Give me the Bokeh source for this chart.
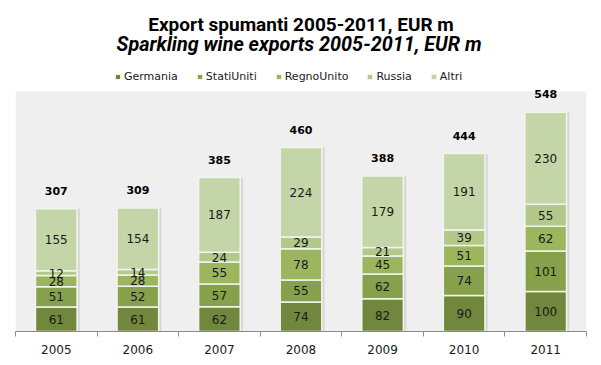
from bokeh.plotting import figure
from bokeh.models import (ColumnDataSource, Range1d, FixedTicker, Label, Legend, LegendItem, BoxAnnotation)
from bokeh.transform import dodge
from bokeh.core.properties import value
from bokeh.embed import file_html
from bokeh.resources import INLINE
import numpy as np

title_main = "Export spumanti 2005-2011, EUR m"
title_sub = "Sparkling wine exports 2005-2011, EUR  m"
years = ["2005", "2006", "2007", "2008", "2009", "2010", "2011"]
series = ["Germania", "StatiUniti", "RegnoUnito", "Russia", "Altri"]
germania = [61, 61, 62, 74, 82, 90, 100]
stati_uniti = [51, 52, 57, 55, 62, 74, 101]
regno_unito = [28, 28, 55, 78, 45, 51, 62]
russia = [12, 14, 24, 29, 21, 39, 55]
altri = [155, 154, 187, 224, 179, 191, 230]
totals = [307, 309, 385, 460, 388, 444, 548]

colors = ["#71873d", "#86a04c", "#9bb65c", "#b2c98a", "#c4d6a7"]

Y_MAX = 600
FRAME_H = 331
xs = [i + 0.5 for i in range(len(years))]
data = dict(x=xs, Germania=germania, StatiUniti=stati_uniti, RegnoUnito=regno_unito,
            Russia=russia, Altri=altri, total=totals, total_label=[str(t) for t in totals])
source = ColumnDataSource(data)

p = figure(width=601, height=365, output_backend="svg", toolbar_location=None,
           x_range=Range1d(0, len(years)), y_range=Range1d(0, Y_MAX * FRAME_H / 240),
           min_border_left=15, min_border_right=15, min_border_top=0, min_border_bottom=34)
p.title.visible = False
p.background_fill_color = "white"
p.border_fill_color = "white"
p.outline_line_color = None
p.grid.visible = False
p.yaxis.visible = False

p.add_layout(BoxAnnotation(bottom=0, top=Y_MAX, fill_color="#efefef", fill_alpha=1,
                           line_color=None, level="underlay"))

# shadow
p.vbar(x=dodge("x", 0.035), top="total", width=0.51, source=source,
       fill_color="#cfcfcf", fill_alpha=0.7, line_color=None)

renderers = p.vbar_stack(series, x="x", width=0.51, color=colors, source=source,
                         line_color="#f2f4ee", line_width=1.5)

# segment labels
vals = np.array([germania, stati_uniti, regno_unito, russia, altri], dtype=float)
cum = np.cumsum(vals, axis=0)
mids = cum - vals / 2
lx, ly, lt = [], [], []
for s in range(vals.shape[0]):
    for i in range(vals.shape[1]):
        lx.append(xs[i]); ly.append(mids[s, i]); lt.append(str(int(vals[s, i])))
p.text(x=lx, y=ly, text=lt, text_align="center", text_baseline="middle",
       text_font=value("DejaVu Sans"), text_font_size="12px", text_color="#1a1a1a")

# totals
p.text(x="x", y="total", text="total_label", source=source, text_align="center",
       text_baseline="middle", y_offset=-18, text_font=value("DejaVu Sans"),
       text_font_style="bold", text_font_size="11px", text_color="#000000")

ax = p.xaxis[0]
ax.ticker = FixedTicker(ticks=xs, minor_ticks=list(range(len(years) + 1)))
ax.major_label_overrides = {x: y for x, y in zip(xs, years)}
ax.major_tick_out = 0
ax.major_tick_in = 0
ax.minor_tick_out = 5
ax.minor_tick_in = 0
ax.minor_tick_line_color = "#8c8c8c"
ax.axis_line_color = "#8c8c8c"
ax.major_label_standoff = 8
ax.major_label_text_font = "DejaVu Sans"
ax.major_label_text_font_size = "12px"
ax.major_label_text_color = "#1a1a1a"

legend = Legend(items=[LegendItem(label=s, renderers=[r]) for s, r in zip(series, renderers)],
                orientation="horizontal", location=(99, 248),
                label_text_font="DejaVu Sans", label_text_font_size="11px",
                label_text_color="#1a1a1a", glyph_width=7, glyph_height=7,
                label_standoff=3, spacing=18, padding=0, margin=0,
                border_line_color=None, background_fill_alpha=0, label_height=11)
p.add_layout(legend, "center")

p.add_layout(Label(x=285.5, y=FRAME_H - 24, x_units="screen", y_units="screen",
                   text=title_main, text_align="center", text_baseline="middle",
                   text_font="Roboto", text_font_size="19px", text_font_style="bold",
                   text_color="#000000"))
p.add_layout(Label(x=286, y=FRAME_H - 44, x_units="screen", y_units="screen",
                   text=title_sub, text_align="center", text_baseline="middle",
                   text_font="Roboto", text_font_size="19.8px", text_font_style="bold italic",
                   text_color="#000000"))

open("out.html", "w").write(file_html(p, INLINE))
